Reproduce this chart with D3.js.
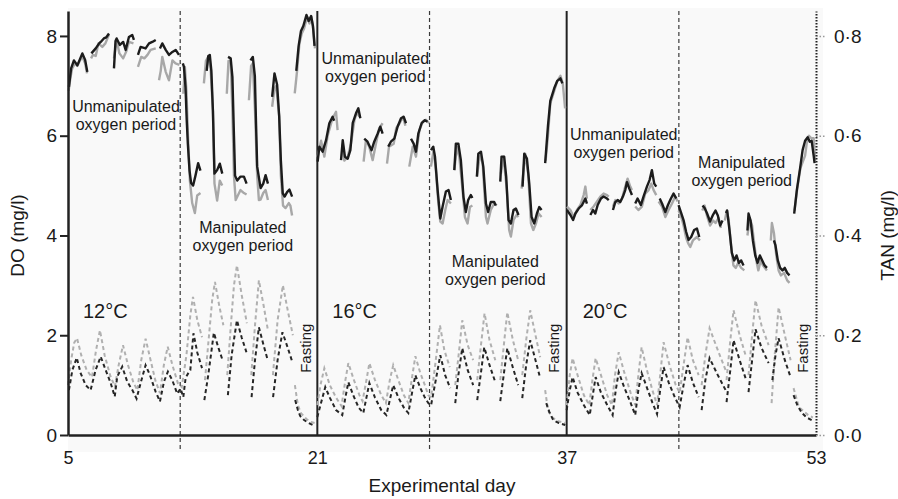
<!DOCTYPE html>
<html>
<head>
<meta charset="utf-8">
<script src="https://cdn.jsdelivr.net/npm/d3@7"></script>
<style>
  body { margin: 0; background: #fff; }
  svg text { font-family: "Liberation Sans", Arial, Helvetica, sans-serif; fill: #1a1a1a; }
</style>
</head>
<body>
<svg id="chart" width="898" height="499"></svg>
<script>
// ---- data: [experimental day, value], null = gap in the record ----

// dissolved oxygen, 12°C
const do12Black = [
  [5.06,6.98],[5.2,7.35],[5.38,7.51],[5.6,7.41],[5.92,7.65],[6.1,7.52],[6.24,7.28], null,
  [6.5,7.65],[6.78,7.75],[7.0,7.85],[7.1,7.88],[7.3,7.95],[7.45,7.97],[7.63,8.05], null,
  [7.95,7.35],[8.05,7.9],[8.12,7.95],[8.33,7.82],[8.54,7.88],[8.7,7.72],[8.91,7.98],[9.12,8.02],[9.23,7.92], null,
  [9.49,7.62],[9.66,7.78],[9.98,7.75],[10.2,7.85],[10.41,7.88],[10.63,7.92], null,
  [10.9,7.75],[11.05,7.85],[11.27,7.72],[11.48,7.62],[11.7,7.68],[11.91,7.72],[12.12,7.62], null,
  [12.37,7.45],[12.44,7.38],[12.54,6.98],[12.62,6.3],[12.69,5.84],[12.8,5.3],[12.9,5.05],[13.03,5.0],[13.18,5.2],[13.35,5.45],[13.5,5.3], null,
  [13.9,7.3],[14.0,7.6],[14.1,7.62],[14.2,7.3],[14.3,6.5],[14.4,5.24],[14.57,5.31],[14.74,5.44],[14.9,5.24], null,
  [15.27,7.58],[15.44,7.55],[15.55,7.18],[15.65,6.0],[15.72,5.2],[15.86,5.1],[16.07,5.18],[16.29,5.18],[16.46,5.04], null,
  [16.71,7.51],[16.86,7.58],[16.99,7.2],[17.07,6.2],[17.14,5.38],[17.36,4.95],[17.53,5.04],[17.68,5.21],[17.83,5.04], null,
  [18.1,6.78],[18.25,7.25],[18.42,7.02],[18.55,6.4],[18.66,5.5],[18.78,4.85],[18.9,4.78],[19.06,4.87],[19.21,4.92],[19.38,4.78], null,
  [19.65,7.3],[19.8,7.8],[19.95,8.1],[20.1,8.2],[20.3,8.42],[20.45,8.3],[20.6,8.4],[20.72,8.2],[20.82,7.8]
];
const do12Gray = [
  [5.04,6.9],[5.15,7.15],[5.27,7.35],[5.45,7.45],[5.6,7.4],[5.75,7.5],[5.92,7.58],[6.1,7.45],[6.22,7.25], null,
  [6.48,7.55],[6.6,7.62],[6.78,7.6],[6.95,7.85],[7.2,7.78],[7.4,7.85],[7.63,8.03], null,
  [7.95,7.55],[8.12,7.92],[8.3,7.65],[8.54,7.55],[8.75,7.7],[8.91,7.88],[9.2,7.85], null,
  [9.49,7.38],[9.7,7.58],[9.9,7.55],[10.1,7.62],[10.3,7.72],[10.63,7.75], null,
  [10.84,7.11],[10.95,7.3],[11.05,7.58],[11.27,7.28],[11.48,7.11],[11.7,7.51],[11.9,7.45],[12.15,7.42], null,
  [12.4,6.84],[12.5,7.38],[12.6,6.9],[12.7,6.0],[12.82,5.1],[12.97,4.65],[13.14,4.45],[13.29,4.8],[13.5,4.85], null,
  [13.72,7.05],[13.85,7.5],[14.0,7.58],[14.15,7.35],[14.3,6.5],[14.4,5.04],[14.57,4.7],[14.74,5.1],[14.9,5.0], null,
  [15.19,6.84],[15.3,7.5],[15.44,7.5],[15.55,6.5],[15.65,5.2],[15.76,4.71],[16.07,4.91],[16.29,4.85],[16.46,4.82], null,
  [16.61,6.71],[16.75,7.4],[16.86,7.45],[17.0,6.5],[17.14,5.2],[17.25,4.71],[17.36,4.72],[17.53,4.85],[17.68,4.91],[17.83,4.71], null,
  [18.1,6.58],[18.25,6.95],[18.36,7.0],[18.55,6.4],[18.66,5.2],[18.8,4.6],[18.96,4.55],[19.17,4.65],[19.27,4.6],[19.38,4.4], null,
  [19.55,6.85],[19.7,7.3],[19.85,7.85],[20.0,8.05],[20.15,8.15],[20.35,8.38],[20.5,8.25],[20.62,8.38],[20.75,8.1],[20.85,7.75]
];

// dissolved oxygen, 16°C
const do16Black = [
  [21.02,5.48],[21.13,5.78],[21.34,5.68],[21.56,5.91],[21.77,6.25],[21.98,6.38],[22.08,6.3], null,
  [22.52,5.51],[22.63,5.91],[22.77,5.58],[22.95,5.54],[23.12,5.71],[23.27,6.25],[23.48,6.45],[23.63,6.55],[23.76,6.35], null,
  [24.01,5.94],[24.22,5.88],[24.48,5.71],[24.65,5.88],[24.87,6.04],[25.04,6.18],[25.19,6.04], null,
  [25.55,5.78],[25.72,5.88],[25.94,5.94],[26.15,6.18],[26.37,6.35],[26.54,6.38],[26.69,6.25], null,
  [27.01,5.94],[27.18,5.84],[27.33,5.68],[27.48,6.04],[27.69,6.25],[27.9,6.31],[28.07,6.28], null,
  [28.29,5.71],[28.44,5.78],[28.55,5.58],[28.72,4.91],[28.89,4.34],[29.04,4.58],[29.25,4.88],[29.42,4.91],[29.57,4.71], null,
  [29.79,5.31],[29.89,5.84],[30.05,5.84],[30.21,5.51],[30.38,4.77],[30.53,4.47],[30.68,4.71],[30.85,4.81],[30.95,4.75], null,
  [31.24,5.18],[31.33,5.64],[31.5,5.68],[31.65,5.38],[31.82,4.64],[31.96,4.47],[32.13,4.67],[32.35,4.67],[32.45,4.6], null,
  [32.74,5.08],[32.82,5.58],[32.99,5.58],[33.12,5.18],[33.27,4.31],[33.42,4.24],[33.59,4.51],[33.74,4.54],[33.91,4.41], null,
  [34.17,4.98],[34.28,5.64],[34.45,5.54],[34.6,5.04],[34.75,4.37],[34.92,4.24],[35.09,4.44],[35.24,4.57],[35.39,4.51], null,
  [35.62,5.45],[35.8,6.2],[35.95,6.7],[36.2,6.95],[36.4,7.1],[36.6,7.15],[36.72,7.05]
];
const do16Gray = [
  [21.02,5.58],[21.24,5.9],[21.45,5.58],[21.66,6.0],[21.98,6.35],[22.2,6.48],[22.3,6.11], null,
  [22.63,5.84],[22.73,5.5],[22.95,5.58],[23.16,5.84],[23.38,6.31],[23.55,6.48],[23.7,6.38], null,
  [23.97,5.48],[24.12,5.91],[24.33,5.78],[24.55,5.51],[24.76,5.84],[24.97,6.15],[25.19,6.25], null,
  [25.47,5.44],[25.6,5.78],[25.9,5.84],[26.06,6.15],[26.28,6.25],[26.5,6.38],[26.65,6.2], null,
  [26.9,5.38],[27.12,5.78],[27.33,5.58],[27.55,6.11],[27.76,6.28],[27.97,6.32],[28.18,6.25], null,
  [28.29,5.38],[28.46,5.71],[28.61,5.31],[28.76,4.67],[28.89,4.28],[29.04,4.24],[29.21,4.51],[29.36,4.71],[29.57,4.64], null,
  [29.79,5.31],[29.96,5.78],[30.11,5.58],[30.32,4.91],[30.47,4.37],[30.64,4.24],[30.79,4.57],[30.95,4.6], null,
  [31.24,5.18],[31.44,5.64],[31.61,5.44],[31.82,4.37],[31.92,4.24],[32.13,4.51],[32.35,4.64],[32.52,4.6], null,
  [32.78,5.24],[32.95,5.58],[33.16,4.91],[33.31,4.11],[33.42,3.98],[33.59,4.31],[33.78,4.41],[33.91,4.37], null,
  [34.11,4.94],[34.34,5.64],[34.53,5.24],[34.71,4.24],[34.86,4.11],[35.03,4.24],[35.2,4.44],[35.39,4.37], null,
  [35.65,5.5],[35.8,6.0],[35.95,6.65],[36.2,6.9],[36.4,7.1],[36.6,7.2],[36.75,7.05],[36.9,6.55]
];

// dissolved oxygen, 20°C
const do20Black = [
  [37.02,4.51],[37.24,4.41],[37.41,4.31],[37.56,4.44],[37.77,4.54],[37.99,4.61],[38.2,4.74],[38.3,4.64], null,
  [38.52,4.41],[38.69,4.51],[38.84,4.44],[38.99,4.61],[39.2,4.74],[39.37,4.78],[39.59,4.74],[39.7,4.71], null,
  [39.97,4.51],[40.12,4.67],[40.27,4.71],[40.44,4.67],[40.61,4.78],[40.76,4.91],[40.87,5.07],[41.02,4.94],[41.19,4.81], null,
  [41.4,4.64],[41.55,4.74],[41.76,4.61],[41.93,4.78],[42.15,4.98],[42.32,5.11],[42.47,5.31],[42.62,5.04],[42.75,4.98], null,
  [42.97,4.74],[43.12,4.64],[43.33,4.47],[43.5,4.61],[43.69,4.74],[43.86,4.84],[44.03,4.74], null,
  [44.18,4.61],[44.33,4.47],[44.5,4.31],[44.67,4.07],[44.82,3.91],[44.99,3.97],[45.18,4.11],[45.36,4.14],[45.51,3.97], null,
  [45.72,4.6],[45.85,4.55],[46.0,4.45],[46.2,4.28],[46.4,4.42],[46.55,4.5],[46.7,4.4],[46.85,4.2],[47.0,4.3], null,
  [47.22,4.45],[47.3,4.5],[47.45,4.1],[47.6,3.65],[47.75,3.5],[47.9,3.6],[48.05,3.45],[48.2,3.5],[48.35,3.4], null,
  [48.6,4.1],[48.67,4.44],[48.8,4.3],[48.95,3.9],[49.1,3.6],[49.25,3.45],[49.4,3.6],[49.55,3.5],[49.7,3.4],[49.85,3.35], null,
  [50.3,3.9],[50.4,3.8],[50.55,3.5],[50.7,3.35],[50.85,3.3],[51.0,3.35],[51.15,3.25],[51.3,3.2], null,
  [51.6,4.44],[51.77,4.91],[51.98,5.35],[52.14,5.71],[52.3,5.9],[52.47,5.97],[52.6,5.88],[52.72,5.9],[52.85,5.6],[52.91,5.45]
];
const do20Gray = [
  [37.02,4.58],[37.24,4.51],[37.45,4.37],[37.66,4.51],[37.88,4.61],[38.09,4.81],[38.2,4.98],[38.3,4.74], null,
  [38.52,4.51],[38.73,4.58],[38.95,4.68],[39.16,4.78],[39.37,4.84],[39.59,4.81],[39.7,4.78], null,
  [39.97,4.58],[40.12,4.71],[40.33,4.64],[40.55,4.74],[40.76,4.98],[40.91,5.14],[41.08,4.98],[41.19,4.91], null,
  [41.4,4.58],[41.6,4.51],[41.83,4.58],[42.04,4.84],[42.26,4.91],[42.43,5.04],[42.58,4.91],[42.75,4.81], null,
  [42.9,4.68],[43.12,4.58],[43.33,4.37],[43.54,4.51],[43.76,4.64],[43.97,4.78],[44.12,4.68], null,
  [44.18,4.5],[44.33,4.4],[44.5,4.2],[44.67,3.95],[44.8,3.84],[44.93,3.77],[45.1,3.9],[45.36,3.97],[45.55,3.9], null,
  [45.7,4.5],[45.85,4.6],[46.0,4.4],[46.2,4.2],[46.4,4.3],[46.55,4.25],[46.75,4.35],[46.9,4.15], null,
  [47.15,4.3],[47.28,4.5],[47.4,4.3],[47.55,3.8],[47.7,3.4],[47.85,3.35],[48.0,3.45],[48.2,3.35],[48.4,3.3], null,
  [48.6,4.0],[48.75,4.35],[48.9,4.2],[49.05,3.8],[49.2,3.45],[49.3,3.3],[49.45,3.5],[49.6,3.4],[49.85,3.3], null,
  [50.1,3.9],[50.17,4.25],[50.3,4.05],[50.45,3.6],[50.6,3.3],[50.75,3.2],[50.95,3.25],[51.15,3.1],[51.3,3.05], null,
  [51.62,4.5],[51.8,4.95],[52.0,5.35],[52.3,5.6],[52.45,5.95],[52.55,6.0],[52.7,5.95],[52.85,5.95],[52.95,5.5]
];

// total ammonia nitrogen, 12°C
const tan12Black = [
  [5.06,0.09],[5.28,0.13],[5.56,0.155],[5.81,0.124],[6.13,0.1],[6.45,0.09],[6.77,0.13],[7.1,0.157],[7.42,0.13],[7.74,0.104],
  [8.0,0.077],[8.16,0.117],[8.48,0.137],[8.8,0.107],[9.13,0.09],[9.4,0.073],[9.66,0.104],[9.98,0.14],[10.26,0.12],[10.62,0.087],
  [10.9,0.067],[11.16,0.107],[11.41,0.127],[11.69,0.11],[12.01,0.083],[12.22,0.093],[12.4,0.076],[12.55,0.115],[12.72,0.124],
  [12.85,0.13],[13.05,0.204],[13.3,0.165],[13.6,0.134], null,
  [13.75,0.07],[14.0,0.12],[14.36,0.205],[14.65,0.175],[14.92,0.15], null,
  [15.26,0.08],[15.5,0.16],[15.84,0.23],[16.15,0.195],[16.45,0.166], null,
  [16.78,0.076],[17.0,0.15],[17.25,0.216],[17.55,0.18],[17.8,0.152], null,
  [18.16,0.076],[18.45,0.15],[18.76,0.206],[19.1,0.175],[19.4,0.146], null,
  [19.58,0.07],[19.75,0.05],[19.9,0.038],[20.15,0.03],[20.45,0.024],[20.85,0.018]
];
const tan12Gray = [
  [5.0,0.1],[5.2,0.15],[5.4,0.185],[5.58,0.194],[5.85,0.16],[6.2,0.13],[6.54,0.116],[6.8,0.17],[7.05,0.21],[7.35,0.16],
  [7.7,0.12],[8.01,0.097],[8.25,0.14],[8.53,0.18],[8.85,0.14],[9.2,0.105],[9.45,0.09],[9.7,0.15],[9.98,0.193],[10.3,0.15],
  [10.6,0.11],[10.9,0.084],[11.15,0.14],[11.4,0.177],[11.7,0.14],[12.05,0.104],[12.3,0.096],[12.6,0.16],[12.85,0.24],
  [13.02,0.277],[13.3,0.23],[13.6,0.196], null,
  [13.79,0.11],[14.05,0.2],[14.25,0.27],[14.43,0.307],[14.7,0.26],[14.97,0.22], null,
  [15.22,0.12],[15.45,0.22],[15.65,0.3],[15.84,0.34],[16.15,0.28],[16.48,0.224], null,
  [16.76,0.12],[17.0,0.22],[17.25,0.31],[17.55,0.26],[17.83,0.21], null,
  [18.15,0.12],[18.45,0.23],[18.79,0.3],[19.1,0.25],[19.43,0.2], null,
  [19.56,0.1],[19.75,0.06],[19.95,0.044],[20.3,0.032],[20.6,0.026],[20.85,0.024]
];

// total ammonia nitrogen, 16°C
const tan16Black = [
  [21.0,0.036],[21.2,0.06],[21.51,0.096],[21.8,0.075],[22.2,0.05],[22.6,0.04],[22.8,0.075],[22.99,0.106],[23.3,0.08],
  [23.65,0.055],[23.95,0.044],[24.15,0.075],[24.34,0.104],[24.7,0.075],[25.1,0.05],[25.43,0.04],[25.65,0.07],[25.87,0.1],
  [26.2,0.075],[26.55,0.055],[26.84,0.044],[27.05,0.08],[27.29,0.12],[27.6,0.095],[27.9,0.075],[28.12,0.064],[28.3,0.06],
  [28.6,0.11],[28.89,0.16],[29.2,0.12],[29.53,0.094], null,
  [29.85,0.064],[30.05,0.12],[30.3,0.174],[30.65,0.13],[31.0,0.1], null,
  [31.26,0.07],[31.5,0.125],[31.71,0.176],[32.05,0.14],[32.42,0.106], null,
  [32.74,0.068],[33.0,0.13],[33.19,0.174],[33.55,0.135],[33.89,0.1], null,
  [34.15,0.074],[34.4,0.14],[34.66,0.19],[35.0,0.15],[35.3,0.114], null,
  [35.69,0.064],[35.9,0.045],[36.14,0.03],[36.5,0.024],[36.91,0.02]
];
const tan16Gray = [
  [21.0,0.06],[21.2,0.1],[21.45,0.134],[21.8,0.1],[22.2,0.075],[22.55,0.058],[22.8,0.11],[22.99,0.144],[23.35,0.11],
  [23.7,0.08],[23.9,0.068],[24.15,0.11],[24.34,0.144],[24.7,0.11],[25.1,0.08],[25.4,0.064],[25.65,0.11],[25.87,0.14],
  [26.2,0.11],[26.55,0.08],[26.84,0.064],[27.05,0.11],[27.29,0.158],[27.6,0.125],[27.9,0.1],[28.12,0.08],[28.3,0.075],
  [28.6,0.15],[28.87,0.22],[29.15,0.17],[29.5,0.136], null,
  [29.85,0.1],[30.1,0.17],[30.3,0.23],[30.65,0.18],[31.0,0.15], null,
  [31.26,0.11],[31.5,0.18],[31.73,0.244],[32.05,0.19],[32.42,0.15], null,
  [32.74,0.11],[33.0,0.19],[33.19,0.246],[33.55,0.19],[33.89,0.15], null,
  [34.15,0.12],[34.4,0.19],[34.66,0.25],[35.0,0.2],[35.3,0.156], null,
  [35.62,0.09],[35.8,0.05],[36.05,0.036],[36.4,0.028],[36.91,0.024]
];

// total ammonia nitrogen, 20°C
const tan20Black = [
  [37.0,0.05],[37.2,0.09],[37.38,0.116],[37.7,0.085],[38.1,0.06],[38.48,0.04],[38.7,0.085],[38.86,0.116],[39.2,0.085],
  [39.6,0.06],[39.95,0.04],[40.15,0.09],[40.34,0.126],[40.7,0.095],[41.1,0.065],[41.4,0.04],[41.6,0.09],[41.81,0.124],
  [42.15,0.095],[42.5,0.065],[42.8,0.042],[43.0,0.09],[43.22,0.136],[43.55,0.105],[43.95,0.075],[44.25,0.056],
  [44.5,0.1],[44.76,0.14],[45.1,0.105],[45.47,0.076], null,
  [45.66,0.05],[45.9,0.11],[46.17,0.154],[46.7,0.12],[47.2,0.09], null,
  [47.26,0.066],[47.5,0.13],[47.71,0.19],[48.1,0.15],[48.48,0.114], null,
  [48.67,0.086],[48.9,0.15],[49.12,0.212],[49.5,0.175],[49.96,0.144], null,
  [50.2,0.11],[50.4,0.16],[50.6,0.194],[51.0,0.15],[51.37,0.116], null,
  [51.56,0.08],[51.8,0.06],[52.1,0.044],[52.4,0.035],[52.72,0.03]
];
const tan20Gray = [
  [37.0,0.06],[37.2,0.12],[37.38,0.154],[37.7,0.12],[38.1,0.08],[38.45,0.06],[38.65,0.11],[38.86,0.154],[39.2,0.12],
  [39.6,0.08],[39.9,0.06],[40.1,0.12],[40.34,0.166],[40.7,0.125],[41.1,0.085],[41.4,0.06],[41.6,0.12],[41.81,0.176],
  [42.15,0.13],[42.5,0.09],[42.8,0.06],[43.0,0.12],[43.22,0.186],[43.6,0.14],[44.0,0.1],[44.25,0.085],
  [44.5,0.14],[44.76,0.196],[45.1,0.15],[45.47,0.12], null,
  [45.66,0.1],[45.9,0.16],[46.17,0.214],[46.7,0.17],[47.2,0.13], null,
  [47.26,0.11],[47.5,0.19],[47.71,0.25],[48.1,0.2],[48.48,0.16], null,
  [48.67,0.12],[48.9,0.2],[49.12,0.27],[49.5,0.22],[49.96,0.18], null,
  [50.15,0.064],[50.35,0.16],[50.6,0.256],[51.0,0.2],[51.37,0.15], null,
  [51.56,0.094],[51.9,0.056],[52.5,0.04],[52.8,0.035]
];

// axes, period boundaries and labels
const dayTicks = [5, 21, 37, 53];
const doTicks = [0, 2, 4, 6, 8];
const tanTicks = [0, 0.2, 0.4, 0.6, 0.8];
const tempBoundaries = [21, 37];
const manipulationStarts = [12.2, 28.2, 44.2];
const tempLabels = [["12°C", 5.96], ["16°C", 21.96], ["20°C", 38.03]];
const fastingDays = [20.27, 36.17, 52.15];
const periodLabels = [
  ["Unmanipulated", 8.72, 6.47], ["Manipulated", 16.22, 4.05],
  ["Unmanipulated", 24.72, 7.43], ["Manipulated", 32.42, 3.37],
  ["Unmanipulated", 40.66, 5.91], ["Manipulated", 48.23, 5.35]
];

// ---- chart ----
var svg = d3.select('#chart'),
  LEFT = 68, RIGHT = 816, TOP = 11, BOTTOM = 435;

var x = d3.scaleLinear().domain([5, 53]).range([LEFT, RIGHT]);
var yDo = d3.scaleLinear().domain([0, 8.5]).range([BOTTOM, TOP]);
var yTan = d3.scaleLinear().domain([0, 0.85]).range([BOTTOM, TOP]);

// faint plot background
svg.append('rect')
  .attr('x', LEFT).attr('y', TOP - 3)
  .attr('width', RIGHT - LEFT + 7).attr('height', BOTTOM - TOP + 20)
  .attr('fill', '#f9f9f9');

// manipulation start lines (dashed, run below the axis)
svg.selectAll('.manip').data(manipulationStarts).enter().append('line')
  .attr('x1', d => x(d)).attr('x2', d => x(d))
  .attr('y1', TOP).attr('y2', BOTTOM + 15)
  .attr('stroke', '#3a3a3a').attr('stroke-width', 1.2)
  .attr('stroke-dasharray', '4,3');

// temperature boundaries
svg.selectAll('.temp').data(tempBoundaries).enter().append('line')
  .attr('x1', d => x(d)).attr('x2', d => x(d))
  .attr('y1', TOP).attr('y2', BOTTOM)
  .attr('stroke', '#222').attr('stroke-width', 2);

// series
function lineFor(yScale) {
  return d3.line()
    .defined(d => d !== null)
    .x(d => x(d[0]))
    .y(d => yScale(d[1]));
}
var doLine = lineFor(yDo), tanLine = lineFor(yTan);

[tan12Gray, tan16Gray, tan20Gray].forEach(s => {
  svg.append('path').attr('d', tanLine(s))
    .attr('fill', 'none').attr('stroke', '#b0b0b0').attr('stroke-width', 2)
    .attr('stroke-dasharray', '4,3');
});
[tan12Black, tan16Black, tan20Black].forEach(s => {
  svg.append('path').attr('d', tanLine(s))
    .attr('fill', 'none').attr('stroke', '#262626').attr('stroke-width', 2)
    .attr('stroke-dasharray', '4,3');
});
[do12Gray, do16Gray, do20Gray].forEach(s => {
  svg.append('path').attr('d', doLine(s))
    .attr('fill', 'none').attr('stroke', '#a8a8a8').attr('stroke-width', 2.4)
    .attr('stroke-linejoin', 'round');
});
[do12Black, do16Black, do20Black].forEach(s => {
  svg.append('path').attr('d', doLine(s))
    .attr('fill', 'none').attr('stroke', '#1c1c1c').attr('stroke-width', 2.4)
    .attr('stroke-linejoin', 'round');
});

// left axis
var gLeft = svg.append('g')
  .attr('transform', 'translate(' + LEFT + ',0)')
  .call(d3.axisLeft(yDo).tickValues(doTicks).tickSize(8).tickSizeOuter(0).tickPadding(3));
gLeft.select('.domain').attr('stroke', '#222').attr('stroke-width', 2.5);
gLeft.selectAll('.tick line').attr('stroke', '#222').attr('stroke-width', 2);
gLeft.selectAll('.tick text').style('font-size', '19px').attr('fill', '#1a1a1a');

// bottom axis
var gBottom = svg.append('g')
  .attr('transform', 'translate(0,' + BOTTOM + ')')
  .call(d3.axisBottom(x).tickValues(dayTicks).tickSize(0).tickSizeOuter(0).tickPadding(16));
gBottom.select('.domain').attr('stroke', '#222').attr('stroke-width', 2.5);
gBottom.selectAll('.tick text').style('font-size', '18px').attr('fill', '#1a1a1a');

// right axis, dotted
var gRight = svg.append('g')
  .attr('transform', 'translate(' + RIGHT + ',0)')
  .call(d3.axisRight(yTan).tickValues(tanTicks).tickSize(9).tickSizeOuter(0).tickPadding(9)
    .tickFormat(d => d3.format('.1f')(d).replace('.', '·')));
gRight.select('.domain').attr('stroke', '#222').attr('stroke-width', 2).attr('stroke-dasharray', '1.5,1.5');
gRight.selectAll('.tick line').attr('stroke', '#999').attr('stroke-width', 1.5).attr('stroke-dasharray', '1.5,2');
gRight.selectAll('.tick text').style('font-size', '19px').attr('fill', '#1a1a1a');

// axis titles
svg.append('text')
  .attr('transform', 'translate(24,' + yDo(4) + ') rotate(-90)')
  .style('text-anchor', 'middle').style('font-size', '19px')
  .text('DO (mg/l)');
svg.append('text')
  .attr('transform', 'translate(894,' + yDo(4) + ') rotate(-90)')
  .style('text-anchor', 'middle').style('font-size', '19px')
  .text('TAN (mg/l)');
svg.append('text')
  .attr('x', (LEFT + RIGHT) / 2).attr('y', 492)
  .style('text-anchor', 'middle').style('font-size', '19px')
  .text('Experimental day');

// period labels
periodLabels.forEach(p => {
  var t = svg.append('text')
    .attr('x', x(p[1])).attr('y', yDo(p[2]))
    .style('text-anchor', 'middle').style('font-size', '16px');
  t.append('tspan').attr('x', x(p[1])).text(p[0]);
  t.append('tspan').attr('x', x(p[1])).attr('dy', 18).text('oxygen period');
});

// temperatures
tempLabels.forEach(t => {
  svg.append('text')
    .attr('x', x(t[1])).attr('y', yDo(2.34))
    .style('font-size', '20px')
    .text(t[0]);
});

// fasting
fastingDays.forEach(d => {
  svg.append('text')
    .attr('transform', 'translate(' + x(d) + ',' + yDo(1.74) + ') rotate(-90)')
    .attr('dy', '0.35em')
    .style('text-anchor', 'middle').style('font-size', '15px')
    .text('Fasting');
});
</script>
</body>
</html>
